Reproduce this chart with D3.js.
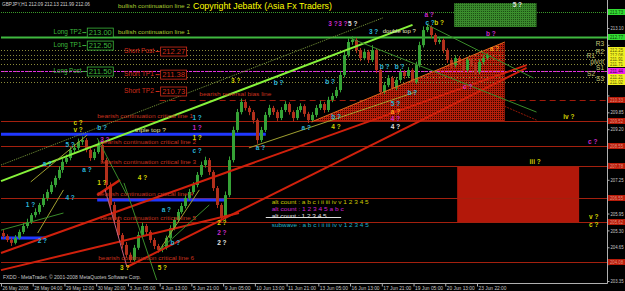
<!DOCTYPE html>
<html>
<head>
<meta charset="utf-8">
<script src="https://d3js.org/d3.v7.min.js"></script>
<style>
  body { margin:0; background:#000; }
  svg { display:block; }
  text { font-family: "Liberation Sans", Arial, sans-serif; }
</style>
</head>
<body>
<script>
var width = 625, height = 291;
var plotRight = 607, plotBottom = 283;

// GBPJPY, one candle per 4 hourly bars
var barOpen = [205.20,205.08,204.93,204.82,205.01,205.24,205.47,205.62,205.89,206.01,
  206.28,206.55,206.78,207.05,207.32,207.63,207.94,208.09,208.40,208.48,
  208.71,208.78,208.40,208.09,208.32,208.59,208.01,207.05,206.28,205.70,
  205.12,204.74,204.36,204.16,204.63,205.12,205.47,205.24,204.93,204.70,
  204.55,204.63,205.01,205.39,205.70,206.01,206.24,206.55,206.78,207.05,
  207.44,207.82,208.01,207.55,206.93,206.28,205.78,206.66,208.01,209.17,
  209.86,210.25,210.02,209.86,209.55,208.78,209.17,209.75,210.02,209.86,
  209.63,209.94,210.17,209.86,209.63,209.94,210.09,209.79,209.55,209.75,
  210.02,210.17,209.94,210.33,210.48,210.71,211.29,212.06,212.56,212.64,
  212.25,211.94,212.18,211.87,212.25,211.48,210.63,210.90,211.17,210.79,
  211.10,211.40,211.25,211.48,211.02,211.67,212.44,213.02,213.14,212.83,
  212.56,212.64,212.25,211.87,211.67,211.94,211.79,211.48,211.87,211.71,
  211.40,211.79,211.94];
var barHigh = [205.31,205.15,205.02,205.12,205.33,205.58,205.75,205.97,206.15,206.36,
  206.70,206.88,207.18,207.41,207.77,208.05,208.22,208.51,208.63,208.84,
  208.92,208.86,208.48,208.44,208.74,208.66,208.10,207.15,206.40,205.82,
  205.20,204.85,204.45,204.74,205.25,205.60,205.55,205.31,205.01,204.78,
  204.75,205.10,205.50,205.81,206.12,206.36,206.66,206.90,207.16,207.55,
  207.95,208.14,208.09,207.62,207.01,206.35,206.80,208.15,209.30,209.98,
  210.38,210.35,210.10,209.94,209.62,209.29,209.86,210.14,210.10,209.95,
  210.05,210.28,210.24,209.93,210.06,210.20,210.16,209.87,209.86,210.13,
  210.30,210.25,210.45,210.60,210.83,211.42,212.20,212.70,212.78,212.72,
  212.33,212.30,212.26,212.44,212.32,211.56,211.02,211.28,211.25,211.21,
  211.52,211.48,211.59,211.55,211.80,212.57,213.16,213.26,213.20,212.90,
  212.76,212.70,212.32,211.95,212.05,212.02,211.86,211.98,211.94,211.78,
  211.90,212.05,212.13];
var barLow = [204.98,204.85,204.70,204.76,204.95,205.16,205.38,205.55,205.80,205.92,
  206.20,206.44,206.70,206.96,207.25,207.52,207.86,208.00,208.29,208.40,
  208.60,208.31,207.98,208.01,208.25,207.90,206.93,206.15,205.58,205.01,
  204.60,204.25,204.05,204.10,204.55,205.02,205.12,204.82,204.58,204.44,
  204.46,204.56,204.92,205.30,205.61,205.94,206.15,206.47,206.70,206.96,
  207.36,207.72,207.43,206.82,206.16,205.64,205.70,206.58,207.92,209.08,
  209.77,209.92,209.74,209.42,208.64,208.70,209.09,209.66,209.75,209.52,
  209.55,209.86,209.76,209.50,209.55,209.85,209.68,209.44,209.47,209.66,
  209.94,209.83,209.86,210.24,210.40,210.62,211.20,211.97,212.45,212.13,
  211.82,211.86,211.75,211.79,211.36,210.50,210.55,210.82,210.68,210.70,
  211.02,211.14,211.17,210.90,210.94,211.58,212.35,212.94,212.72,212.45,
  212.48,212.13,211.75,211.55,211.58,211.68,211.37,211.40,211.60,211.29,
  211.32,211.70,211.90];
var barClose = [205.08,204.93,204.82,205.01,205.24,205.47,205.62,205.89,206.01,206.28,
  206.55,206.78,207.05,207.32,207.63,207.94,208.09,208.40,208.48,208.71,
  208.78,208.40,208.09,208.32,208.59,208.01,207.05,206.28,205.70,205.12,
  204.74,204.36,204.16,204.63,205.12,205.47,205.24,204.93,204.70,204.55,
  204.63,205.01,205.39,205.70,206.01,206.24,206.55,206.78,207.05,207.44,
  207.82,208.01,207.55,206.93,206.28,205.78,206.66,208.01,209.17,209.86,
  210.25,210.02,209.86,209.55,208.78,209.17,209.75,210.02,209.86,209.63,
  209.94,210.17,209.86,209.63,209.94,210.09,209.79,209.55,209.75,210.02,
  210.17,209.94,210.33,210.48,210.71,211.29,212.06,212.56,212.64,212.25,
  211.94,212.18,211.87,212.25,211.48,210.63,210.90,211.17,210.79,211.10,
  211.40,211.25,211.48,211.02,211.67,212.44,213.02,213.14,212.83,212.56,
  212.64,212.25,211.87,211.67,211.94,211.79,211.48,211.87,211.71,211.40,
  211.79,211.94,212.06];
var hoursPerCandle = 4;

var timeLabels = ["26 May 2008","28 May 04:00","29 May 12:00","30 May 20:00","3 Jun 05:00",
  "4 Jun 13:00","5 Jun 21:00","9 Jun 05:00","10 Jun 13:00","11 Jun 21:00","13 Jun 05:00",
  "16 Jun 13:00","17 Jun 21:00","19 Jun 05:00","20 Jun 13:00","23 Jun 22:00"];
var priceTicks = [203.35,204.00,204.65,205.30,205.95,206.60,207.25,207.90,208.55,
  209.20,209.85,210.50,211.15,211.80,212.45,213.10];

// horizontal levels
var bullLevels = [213.73, 212.77];
var bullNames = ["bullish continuation line 2", "bullish continuation line 1"];
var pivotLevels = [212.25, 212.06, 211.91, 211.71, 211.46, 211.21, 211.02];
var pivotNames = ["R3", "R2", "R1", "pivot", "S1", "S2", "S3"];
var longPostLevel = 211.44;
var biasLevel = 210.33;
var criticalLevels = [209.52, 208.55, 207.78, 206.55, 205.62, 204.08];
var criticalNames = ["bearish continuation critical line 1","bearish continuation critical line 2",
  "bearish continuation critical line 3","bearish continuation critical line 4",
  "bearish continuation critical line 5","bearish continuation critical line 6"];
var tradeNames = ["Long TP2", "Long TP1", "Long Post", "Short Post", "Short TP1", "Short TP2"];
var tradePrices = [213.00, 212.50, 211.50, 212.27, 211.38, 210.73];

// drawn objects: [bar0, price0, bar1, price1]
var blueLines = [[0,209.01,267,209.01],[97,206.47,227,206.47],[0,205.01,45,205.01]];
var redTrends = [[0,204.43,530,211.67],[0,203.77,240,205.97],[127,203.89,530,211.56],[97,206.66,120,207.24]];
var limeTrend = [0,207.20,415,213.22];
var dottedTrend = [0,207.82,385,213.49];
var oliveTrends = [[30,207.17,87,208.98],[37,205.20,63,206.86],[160,204.55,200,206.86],[250,208.48,418,210.63]];
var greenTrends = [[0,205.31,63,205.97],[97,208.86,127,206.66],[124,207.13,157,203.39],[160,204.55,210,206.28],[352,212.71,540,209.86],[430,213.22,537,211.17]];
var roseTrends = [[105,206.86,127,203.89]];
var darkRedTrends = [[505,210.13,540,209.55]];
var triangle = [[313,209.48],[508,212.56],[508,209.48]];
var redBox = [460,207.78,583,205.62];
var greenBox = [457,214.06,540,213.14];

// wave count labels: [text, bar, price]
var waveYellow = [["c ?",73,209.44],["v ?",73,209.17],["1 ?",97,207.13],["4 ?",138,207.32],["3 ?",120,203.85],
  ["5 ?",158,203.85],["2 ?",218,205.58],["1 ?",193,208.86],["3 ?",232,211.06],["4 ?",333,209.28],
  ["b ?",437,213.29],["iv ?",567,209.67],["iii ?",533,207.94],["v ?",593,205.82],["c ?",593,205.51]];
var waveCyan = [["5 ?",65,208.59],["b ?",97,209.25],["a ?",42,207.86],["a ?",82,207.63],["4 ?",65,206.55],
  ["1 ?",25,206.28],["2 ?",37,204.89],["a ?",162,206.09],["b ?",171,204.82],["c ?",193,208.36],
  ["1 ?",193,209.63],["a ?",257,208.48],["a ?",303,209.25],["b ?",333,209.67],["b ?",275,210.98],
  ["b ?",327,211.02],["b ?",382,211.60],["b ?",397,211.60],["3 ?",371,212.95],["c ?",428,213.29],
  ["b ?",410,210.60],["5 ?",393,210.17]];
var waveMagenta = [["3 ?",100,208.78],["1 ?",193,209.25],["2 ?",218,205.20],["4 ?",393,209.59],
  ["a ?",427,213.60],["b ?",489,212.87],["c ?",466,210.83],["c ?",592,208.71],["3 ?",330,213.25],["3 ?",340,213.25]];
var waveWhite = [["2 ?",218,204.82],["4 ?",393,209.28],["5 ?",350,213.25],["5 ?",516,213.99]];
var waveOrange = [["a ?",393,209.86],["a ?",493,212.29]];

var legendTexts = ["alt count : a b c i ii iii iv v 1 2 3 4 5", "alt count : 1 2 3 4 5 a b c",
  "alt count : 1 2 3 4 5", "subwave : a b c i ii iii iv v 1 2 3 4 5"];
var legendPrices = [206.36, 206.09, 205.82, 205.51];

var svg = d3.select("body").append("svg")
  .attr("width", width).attr("height", height)
  .style("background", "#000");

var x = d3.scaleLinear().domain([0, 480]).range([1, 477]);
var y = d3.scaleLinear().domain([203.35, 213.10]).range([281, 28]);

var defs = svg.append("defs");
defs.append("clipPath").attr("id", "plotClip")
  .append("rect").attr("width", plotRight).attr("height", plotBottom);
var hatch = defs.append("pattern").attr("id", "redHatch")
  .attr("width", 2).attr("height", 2).attr("patternUnits", "userSpaceOnUse");
hatch.append("rect").attr("width", 2).attr("height", 2).attr("fill", "#b41e0a");
hatch.append("rect").attr("x", 1).attr("y", 1).attr("width", 1).attr("height", 1).attr("fill", "#300500");
var gHatch = defs.append("pattern").attr("id", "greenHatch")
  .attr("width", 2).attr("height", 2).attr("patternUnits", "userSpaceOnUse");
gHatch.append("rect").attr("width", 2).attr("height", 2).attr("fill", "#3a8a2c");
gHatch.append("rect").attr("x", 1).attr("y", 1).attr("width", 1).attr("height", 1).attr("fill", "#1d4d14");

var plot = svg.append("g").attr("clip-path", "url(#plotClip)");

function hline(price, x0, x1, color, w, dash) {
  plot.append("line")
    .attr("x1", x(x0)).attr("x2", x(x1))
    .attr("y1", Math.round(y(price)) + 0.5).attr("y2", Math.round(y(price)) + 0.5)
    .attr("stroke", color).attr("stroke-width", w)
    .attr("stroke-dasharray", dash || null);
}
function seg(d, color, w, dash) {
  plot.append("line")
    .attr("x1", x(d[0])).attr("y1", y(d[1]))
    .attr("x2", x(d[2])).attr("y2", y(d[3]))
    .attr("stroke", color).attr("stroke-width", w)
    .attr("stroke-dasharray", dash || null);
}
function label(txt, bar, price, color, size, len, dy) {
  var t = svg.append("text")
    .attr("x", x(bar)).attr("y", y(price) + (dy || 0))
    .attr("dominant-baseline", "middle")
    .attr("fill", color).attr("font-size", size)
    .text(txt);
  if (len) t.attr("textLength", len).attr("lengthAdjust", "spacingAndGlyphs");
  return t;
}

// filled areas
plot.append("rect")
  .attr("x", x(redBox[0])).attr("y", y(redBox[1]))
  .attr("width", x(redBox[2]) - x(redBox[0])).attr("height", y(redBox[3]) - y(redBox[1]))
  .attr("fill", "#b3180a");
plot.append("rect")
  .attr("x", x(greenBox[0])).attr("y", y(greenBox[1]))
  .attr("width", x(greenBox[2]) - x(greenBox[0])).attr("height", y(greenBox[3]) - y(greenBox[1]))
  .attr("fill", "url(#greenHatch)");
plot.append("path")
  .attr("d", d3.line().x(function(d) { return x(d[0]); }).y(function(d) { return y(d[1]); })(triangle) + "Z")
  .attr("fill", "url(#redHatch)");

// horizontal levels
hline(bullLevels[0], 0, 640, "#3a9a2a", 1, "1,1");
hline(bullLevels[1], 0, 640, "#3fb83f", 2);
pivotLevels.forEach(function(p) { hline(p, 0, 640, "#8a8a3a", 1, "1,2"); });
hline(longPostLevel, 0, 640, "#e030e0", 1, "3,1");
hline(biasLevel, 160, 640, "#a01a0a", 1, "6,4");
criticalLevels.forEach(function(p) { hline(p, 0, 640, "#a4200e", 1); });
blueLines.forEach(function(d) { seg(d, "#2038ff", 3); });

// candles
var candles = plot.append("g");
barClose.forEach(function(c, i) {
  var o = barOpen[i], cx = Math.round(x(i * hoursPerCandle + 2)) + 0.5;
  var col = c >= o ? "#36a236" : "#b2301c";
  candles.append("line")
    .attr("x1", cx).attr("x2", cx)
    .attr("y1", y(barHigh[i])).attr("y2", y(barLow[i]))
    .attr("stroke", col).attr("stroke-width", 1);
  var top = y(Math.max(o, c)), bot = y(Math.min(o, c));
  candles.append("rect")
    .attr("x", cx - 1.5).attr("width", 3)
    .attr("y", top).attr("height", Math.max(1, bot - top))
    .attr("fill", col);
});

// trend lines
redTrends.forEach(function(d, i) { seg(d, "#d0200c", i === 3 ? 2.5 : 2); });
seg(limeTrend, "#86f23a", 2);
seg(dottedTrend, "#7a9a3a", 1, "1,1");
oliveTrends.forEach(function(d) { seg(d, "#a0a030", 1); });
greenTrends.forEach(function(d) { seg(d, "#3a8c2a", 1); });
roseTrends.forEach(function(d) { seg(d, "#c06080", 1); });
darkRedTrends.forEach(function(d) { seg(d, "#901808", 1, "2,1"); });
seg([triangle[0][0], triangle[0][1], triangle[1][0], triangle[1][1]], "#e06a1e", 1);

// text annotations
svg.append("text").attr("x", 2).attr("y", 5).attr("dominant-baseline", "middle")
  .attr("fill", "#d0d0d0").attr("font-size", 5)
  .attr("textLength", 88).attr("lengthAdjust", "spacingAndGlyphs")
  .text("GBPJPY,H1  212.09 212.13 211.99 212.06");
svg.append("text").attr("x", 193).attr("y", 7).attr("dominant-baseline", "middle")
  .attr("fill", "#ffff00").attr("font-size", 9)
  .attr("textLength", 139).attr("lengthAdjust", "spacingAndGlyphs")
  .text("Copyright Jebatfx (Asia Fx Traders)");
svg.append("text").attr("x", 3).attr("y", 278).attr("dominant-baseline", "middle")
  .attr("fill", "#c8c8c8").attr("font-size", 5)
  .attr("textLength", 138).attr("lengthAdjust", "spacingAndGlyphs")
  .text("FXDD - MetaTrader, \u00a9 2001-2008 MetaQuotes Software Corp.");

label(bullNames[0], 118, bullLevels[0], "#a8cc30", 6, 72, -5);
label(bullNames[1], 118, bullLevels[1], "#a8cc30", 6, 72, -4);
var critX = [97, 100, 100, 97, 100, 98];
criticalNames.forEach(function(n, i) { label(n, critX[i], criticalLevels[i], "#c8321e", 6, 96, -4); });
label("bearish reversal bias line", 200, biasLevel, "#c8321e", 6, 72, -5);
label("triple top ?", 135, blueLines[0][1], "#e6e6a0", 6, 31, -4);
label("double top ?", 385, 212.98, "#e8e8c0", 6, 33);

var pivotX = [604, 604, 595, 604, 604, 595, 604];
var pivotDy = [-6, -3, -3, -2, -2, -3, -3];
pivotNames.forEach(function(n, i) {
  label(n, 0, pivotLevels[i], "#c8c878", 6.5, null, pivotDy[i])
    .attr("x", pivotX[i]).attr("text-anchor", "end");
});

// trade level tags
tradeNames.forEach(function(n, i) {
  var isLong = i < 3;
  var col = isLong ? "#3cb83c" : "#d42c1a";
  var tx = isLong ? 53 : 124, bx = isLong ? 87 : 161;
  var cy = y(tradePrices[i]) + 2;
  svg.append("text").attr("x", x(tx)).attr("y", cy).attr("dominant-baseline", "middle")
    .attr("fill", col).attr("font-size", 7).attr("textLength", isLong ? 28 : 30)
    .attr("lengthAdjust", "spacingAndGlyphs").text(n);
  svg.append("line").attr("x1", x(bx - 5)).attr("x2", x(bx - 1))
    .attr("y1", cy).attr("y2", cy).attr("stroke", col);
  svg.append("rect").attr("x", x(bx)).attr("y", cy - 4.5)
    .attr("width", 26).attr("height", 9)
    .attr("fill", "#000").attr("stroke", col).attr("stroke-width", 0.8);
  svg.append("text").attr("x", x(bx) + 13).attr("y", cy + 0.5).attr("dominant-baseline", "middle")
    .attr("text-anchor", "middle").attr("fill", col).attr("font-size", 7.5)
    .attr("textLength", 23).attr("lengthAdjust", "spacingAndGlyphs")
    .text(tradePrices[i].toFixed(2));
});

// wave labels
[[waveYellow, "#d2d200"], [waveCyan, "#2ab4d8"], [waveMagenta, "#c82ac8"],
 [waveWhite, "#e0e0e0"], [waveOrange, "#ff9a1a"]].forEach(function(g) {
  g[0].forEach(function(d) {
    label(d[0], d[1], d[2], g[1], 6.5).attr("font-weight", "bold");
  });
});

// wave count legend
var legendCols = ["#c8c800", "#d020d0", "#e0e0e0", "#20b0c8"];
var legendLens = [97, 72, 55, 97];
legendTexts.forEach(function(t, i) {
  label(t, 273, legendPrices[i], legendCols[i], 6, legendLens[i]);
});
svg.append("line").attr("x1", x(267)).attr("x2", x(343))
  .attr("y1", Math.round(y(legendPrices[2])) + 0.5).attr("y2", Math.round(y(legendPrices[2])) + 0.5)
  .attr("stroke", "#e0e0e0").attr("stroke-width", 1);

// price tags shown on the right scale
var tagPrices = bullLevels.concat(pivotLevels.filter(function(p, i) { return pivotNames[i] !== "S1"; }),
  [longPostLevel, biasLevel], criticalLevels);

// axes
svg.append("line").attr("x1", plotRight + 0.5).attr("x2", plotRight + 0.5)
  .attr("y1", 0).attr("y2", plotBottom + 0.5).attr("stroke", "#b0b0b0");
svg.append("line").attr("x1", 0).attr("x2", plotRight + 0.5)
  .attr("y1", plotBottom + 0.5).attr("y2", plotBottom + 0.5).attr("stroke", "#b0b0b0");

var yAxis = svg.append("g").attr("transform", "translate(" + (plotRight + 0.5) + ",0)")
  .call(d3.axisRight(y).tickValues(priceTicks).tickSize(2).tickPadding(1)
    .tickFormat(d3.format(".2f")));
yAxis.select(".domain").remove();
yAxis.selectAll("line").attr("stroke", "#b0b0b0");
yAxis.selectAll("text").attr("fill", "#c8c8c8").attr("font-size", 5)
  .attr("textLength", 13).attr("lengthAdjust", "spacingAndGlyphs")
  .attr("font-family", "Liberation Sans, Arial, sans-serif")
  .style("display", function(d) {
    // tick values hidden under a price tag
    var hit = tagPrices.some(function(p) { return Math.abs(y(p) - y(d)) < 6; });
    return hit ? "none" : null;
  });

var timeBars = timeLabels.map(function(d, i) { return i * 32; });
var xAxis = svg.append("g").attr("transform", "translate(0," + (plotBottom + 0.5) + ")")
  .call(d3.axisBottom(x).tickValues(timeBars).tickSize(3).tickPadding(0)
    .tickFormat(function(d, i) { return timeLabels[i]; }));
xAxis.select(".domain").remove();
xAxis.selectAll("line").attr("stroke", "#b0b0b0");
xAxis.selectAll("text").attr("fill", "#c8c8c8").attr("font-size", 5)
  .attr("text-anchor", "start").attr("dx", 1)
  .attr("textLength", function(d, i) { return timeLabels[i].length > 11 ? 28 : 26; })
  .attr("lengthAdjust", "spacingAndGlyphs")
  .attr("font-family", "Liberation Sans, Arial, sans-serif");

function priceTag(p, fill, txtCol) {
  var cy = Math.round(y(p));
  svg.append("rect").attr("x", plotRight + 1).attr("y", cy - 3)
    .attr("width", width - plotRight - 1).attr("height", 6).attr("fill", fill);
  svg.append("text").attr("x", plotRight + 3).attr("y", cy + 0.5)
    .attr("dominant-baseline", "middle").attr("fill", txtCol).attr("font-size", 4.8)
    .attr("textLength", 13).attr("lengthAdjust", "spacingAndGlyphs")
    .text(p.toFixed(2));
}
bullLevels.forEach(function(p) { priceTag(p, "#33dd33", "#0a3a0a"); });
pivotLevels.forEach(function(p, i) {
  if (pivotNames[i] !== "S1") priceTag(p, "#f0f020", "#5a5a00");
});
priceTag(longPostLevel, "#ee22ee", "#400040");
priceTag(biasLevel, "#b81c0a", "#e09080");
criticalLevels.forEach(function(p) { priceTag(p, "#b81c0a", "#e09080"); });
</script>
</body>
</html>
